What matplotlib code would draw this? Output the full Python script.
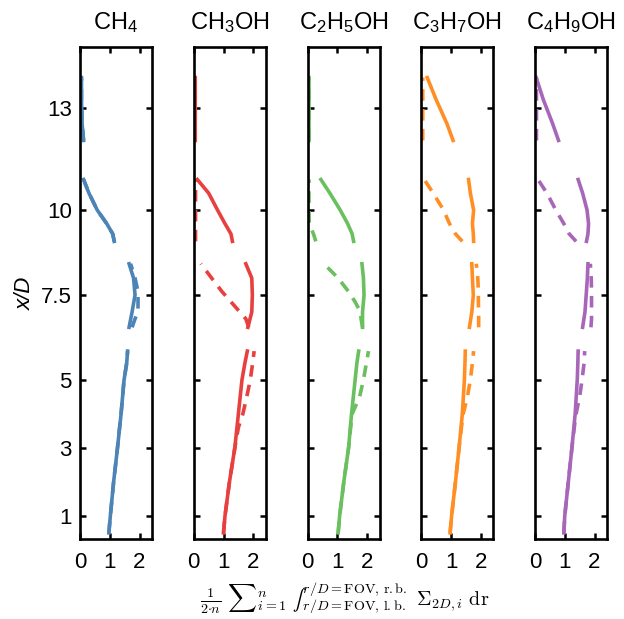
import numpy as np
import matplotlib
matplotlib.use("Agg")
import matplotlib.pyplot as plt

plt.rcParams["font.family"] = ["Liberation Sans", "DejaVu Sans"]
plt.rcParams["mathtext.fontset"] = "custom"
plt.rcParams["mathtext.rm"] = "Liberation Sans"
plt.rcParams["mathtext.it"] = "Liberation Sans:italic"

nan = np.nan

# species shown in the five panels
titles = [r"CH$_4$", r"CH$_3$OH", r"C$_2$H$_5$OH", r"C$_3$H$_7$OH", r"C$_4$H$_9$OH"]
colors = ["#4c84b6", "#e8403f", "#6abf5e", "#ff8f24", "#a866b8"]

# x/D positions (four measurement windows separated by nan)
y_solid = [0.5, 1, 2, 3, 4, 5, 5.5, 5.85, nan,
           6.55, 7.0, 7.5, 8.0, 8.42, nan,
           9.08, 9.3, 9.6, 10.0, 10.5, 10.9, nan,
           12.05, 12.55, 13.25, 13.9]
y_dash = [0.5, 1, 2, 3, 3.6, 4.0, 4.5, 5.0, 5.5, 5.85, nan,
          6.55, 6.8, 7.0, 7.3, 7.6, 8.0, 8.42, nan,
          9.08, 9.3, 9.6, 10.0, 10.5, 10.9, nan,
          12.05, 12.55, 13.25, 13.9]

# CH4
ch4_solid = [0.97, 1.02, 1.13, 1.26, 1.38, 1.48, 1.57, 1.60, nan,
             1.65, 1.75, 1.85, 1.80, 1.65, nan,
             1.15, 1.10, 0.90, 0.58, 0.30, 0.12, nan,
             0.12, 0.07, 0.05, 0.05]
ch4_dash = [0.97, 1.02, 1.13, 1.26, 1.33, 1.38, 1.43, 1.48, 1.57, 1.60, nan,
            1.75, 1.85, 1.95, 1.95, 1.95, 1.85, 1.70, nan,
            1.15, 1.10, 0.90, 0.58, 0.30, 0.12, nan,
            0.12, 0.07, 0.05, 0.05]

# CH3OH
ch3oh_solid = [1.00, 1.05, 1.20, 1.38, 1.50, 1.62, 1.72, 1.80, nan,
               1.82, 1.95, 1.97, 1.95, 1.75, nan,
               1.30, 1.25, 1.05, 0.80, 0.50, 0.12, nan,
               0.05, 0.05, 0.05, 0.05]
ch3oh_dash = [1.00, 1.05, 1.20, 1.38, 1.50, 1.65, 1.78, 1.90, 1.98, 2.03, nan,
              1.85, 1.75, 1.55, 1.25, 0.95, 0.60, 0.24, nan,
              0.06, 0.06, 0.06, 0.06, 0.06, 0.06, nan,
              0.05, 0.05, 0.05, 0.05]

# C2H5OH
c2h5oh_solid = [1.03, 1.08, 1.22, 1.38, 1.48, 1.60, 1.66, 1.72, nan,
                1.85, 1.85, 1.90, 1.88, 1.83, nan,
                1.55, 1.50, 1.35, 1.10, 0.75, 0.45, nan,
                0.05, 0.05, 0.05, 0.05]
c2h5oh_dash = [1.03, 1.08, 1.22, 1.38, 1.45, 1.50, 1.75, 1.88, 1.98, 2.05, nan,
               1.85, 1.80, 1.78, 1.60, 1.38, 1.03, 0.55, nan,
               0.28, 0.20, 0.06, 0.05, 0.05, 0.05, nan,
               0.05, 0.05, 0.05, 0.05]

# C3H7OH
c3h7oh_solid = [0.97, 1.02, 1.15, 1.27, 1.38, 1.45, 1.47, 1.48, nan,
                1.62, 1.70, 1.75, 1.72, 1.70, nan,
                1.76, 1.75, 1.72, 1.76, 1.65, 1.59, nan,
                1.07, 0.86, 0.50, 0.20]
c3h7oh_dash = [0.97, 1.02, 1.15, 1.27, 1.35, 1.41, 1.55, 1.65, 1.72, 1.76, nan,
               1.93, 1.93, 1.93, 1.92, 1.92, 1.90, 1.85, nan,
               1.38, 1.15, 0.95, 0.75, 0.40, 0.10, nan,
               0.05, 0.05, 0.05, 0.05]

# C4H9OH
c4h9oh_solid = [0.97, 1.00, 1.12, 1.24, 1.35, 1.42, 1.44, 1.45, nan,
                1.60, 1.68, 1.72, 1.76, 1.78, nan,
                1.73, 1.78, 1.80, 1.75, 1.60, 1.45, nan,
                0.79, 0.59, 0.28, 0.04]
c4h9oh_dash = [0.97, 1.00, 1.12, 1.24, 1.32, 1.38, 1.50, 1.58, 1.65, 1.67, nan,
               1.88, 1.90, 1.90, 1.90, 1.90, 1.89, 1.86, nan,
               1.38, 1.15, 0.97, 0.70, 0.40, 0.10, nan,
               0.05, 0.05, 0.05, 0.05]

solid_series = [ch4_solid, ch3oh_solid, c2h5oh_solid, c3h7oh_solid, c4h9oh_solid]
dash_series = [ch4_dash, ch3oh_dash, c2h5oh_dash, c3h7oh_dash, c4h9oh_dash]

y_ticks = [1, 3, 5, 7.5, 10, 13]
y_ticklabels = ["1", "3", "5", "7.5", "10", "13"]
x_ticks = [0, 1, 2]

W, H = 624, 619
fig = plt.figure(figsize=(W / 100, H / 100), dpi=100)

lefts = [80, 193.75, 307.5, 421.25, 535]
ax_w = 72
ax_top, ax_bot = 47, 539

for i, left in enumerate(lefts):
    ax = fig.add_axes([left / W, (H - ax_bot) / H, ax_w / W, (ax_bot - ax_top) / H])
    ax.plot(dash_series[i], y_dash, color=colors[i], lw=2.6,
            linestyle=(0, (3.2, 2.3)), solid_capstyle="butt")
    ax.plot(solid_series[i], y_solid, color=colors[i], lw=2.6)
    ax.set_xlim(0, 2.42)
    ax.set_ylim(0.32, 14.8)
    ax.set_xticks(x_ticks)
    ax.set_yticks(y_ticks)
    if i == 0:
        ax.set_yticklabels(y_ticklabels)
    else:
        ax.set_yticklabels([])
    ax.tick_params(direction="in", length=4, width=1.8, top=True, right=True,
                   labelsize=16)
    ax.tick_params(axis="x", pad=9)
    ax.tick_params(axis="y", pad=6)
    for sp in ax.spines.values():
        sp.set_linewidth(1.9)
    ax.set_title(titles[i], fontsize=17, pad=13)

fig.text(25 / W, 1 - 293 / H, "x/D", rotation=90, fontsize=16, style="italic",
         ha="center", va="center")

# unicode integral keeps the operator at text size, as in the original label
xlabel = ("$\\frac{1}{2{\\cdot}n}\\ {\\sum}_{i=1}^{n}\\ {\u222b}_{r/D=\\mathrm{FOV,\\,l.b.}}"
          "^{r/D=\\mathrm{FOV,\\,r.b.}}\\ \\mathit{\\Sigma}_{2D,i}\\ \\mathrm{dr}$")
fig.text(345 / W, 1 - 598 / H, xlabel, fontsize=14.5, math_fontfamily="cm",
         ha="center", va="center")

fig.savefig("out.png", dpi=100)
